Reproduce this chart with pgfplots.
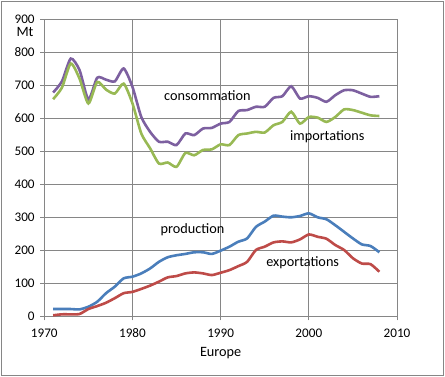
\documentclass[border=0pt]{standalone}
\usepackage{fontspec}
\setmainfont{Carlito}
\usepackage{pgfplots}
\pgfplotsset{compat=1.18}
\definecolor{cB}{HTML}{4A7EBB}
\definecolor{cR}{HTML}{BE4B48}
\definecolor{cG}{HTML}{98B954}
\definecolor{cP}{HTML}{7D60A0}
\definecolor{gridc}{HTML}{868686}
\begin{document}
\begin{tikzpicture}[x=1bp,y=1bp,font=\fontsize{14.3}{16}\selectfont]
\path[use as bounding box] (-44.3bp,-60.7bp) rectangle (400.7bp,316.3bp);
\draw[gridc,line width=0.75bp] (-42.6bp,-58.6bp) rectangle (398.7bp,314.6bp);
\begin{axis}[
  at={(0,0)}, anchor=south west,
  scale only axis, width=352.7bp, height=297bp,
  xmin=1970, xmax=2010, ymin=0, ymax=900,
  xtick={1970,1980,...,2010}, ytick={0,100,...,900},
  grid=major, major grid style={gridc,line width=0.75bp},
  axis line style={gridc,line width=0.75bp},
  tick style={gridc,line width=0.75bp},
  tick align=outside, major tick length=4bp,
  axis x line*=bottom, axis y line*=left,
  x axis line style={-}, y axis line style={-},
  /pgf/number format/assume math mode=true,
  tick label style={font=\fontsize{13.2}{15}\selectfont},
  label style={font=\fontsize{14.3}{16}\selectfont},
  xticklabel style={/pgf/number format/1000 sep={}, yshift=-5bp},
  yticklabel style={xshift=-4.5bp, inner sep=1pt},
  xlabel={Europe}, xlabel style={yshift=-3bp},
  every axis plot/.append style={line width=2.6bp, smooth, tension=0.4, no markers},
  clip=false,
]
\addplot[cP] coordinates {
(1971,678)(1972,712)(1973,781)(1974,746)(1975,657)(1976,723)(1977,717)(1978,712)(1979,751)(1980,695)
(1981,604)(1982,559)(1983,529)(1984,529)(1985,519)(1986,554)(1987,549)(1988,569)(1989,571)(1990,584)
(1991,589)(1992,622)(1993,625)(1994,635)(1995,635)(1996,662)(1997,667)(1998,697)(1999,660)(2000,667)
(2001,662)(2002,650)(2003,670)(2004,685)(2005,685)(2006,675)(2007,665)(2008,667)};
\addplot[cG] coordinates {
(1971,658)(1972,693)(1973,766)(1974,720)(1975,645)(1976,710)(1977,687)(1978,675)(1979,705)(1980,645)
(1981,554)(1982,509)(1983,463)(1984,466)(1985,453)(1986,495)(1987,488)(1988,504)(1989,506)(1990,521)
(1991,519)(1992,549)(1993,554)(1994,559)(1995,557)(1996,579)(1997,589)(1998,620)(1999,584)(2000,604)
(2001,602)(2002,589)(2003,604)(2004,627)(2005,625)(2006,617)(2007,609)(2008,607)};
\addplot[cB] coordinates {
(1971,22)(1972,22)(1973,22)(1974,21)(1975,29)(1976,44)(1977,70)(1978,90)(1979,115)(1980,120)
(1981,130)(1982,145)(1983,165)(1984,179)(1985,185)(1986,189)(1987,194)(1988,194)(1989,189)(1990,199)
(1991,211)(1992,226)(1993,236)(1994,271)(1995,287)(1996,305)(1997,302)(1998,300)(1999,304)(2000,312)
(2001,300)(2002,294)(2003,276)(2004,256)(2005,236)(2006,218)(2007,213)(2008,194)};
\addplot[cR] coordinates {
(1971,3)(1972,6)(1973,6)(1974,7)(1975,22)(1976,31)(1977,41)(1978,55)(1979,70)(1980,74)
(1981,83)(1982,93)(1983,105)(1984,118)(1985,122)(1986,130)(1987,133)(1988,130)(1989,125)(1990,132)
(1991,140)(1992,152)(1993,165)(1994,201)(1995,211)(1996,224)(1997,227)(1998,224)(1999,233)(2000,248)
(2001,241)(2002,235)(2003,216)(2004,201)(2005,176)(2006,160)(2007,158)(2008,135)};
\node at (axis cs:1988.5,670) {consommation};
\node at (axis cs:2002.1,543) {importations};
\node at (axis cs:1986.8,261) {production};
\node at (axis cs:1999.3,161) {exportations};
\node[inner sep=0pt] at ([xshift=-19.3bp,yshift=-13bp]axis cs:1970,900) {Mt};
\end{axis}
\end{tikzpicture}
\end{document}
